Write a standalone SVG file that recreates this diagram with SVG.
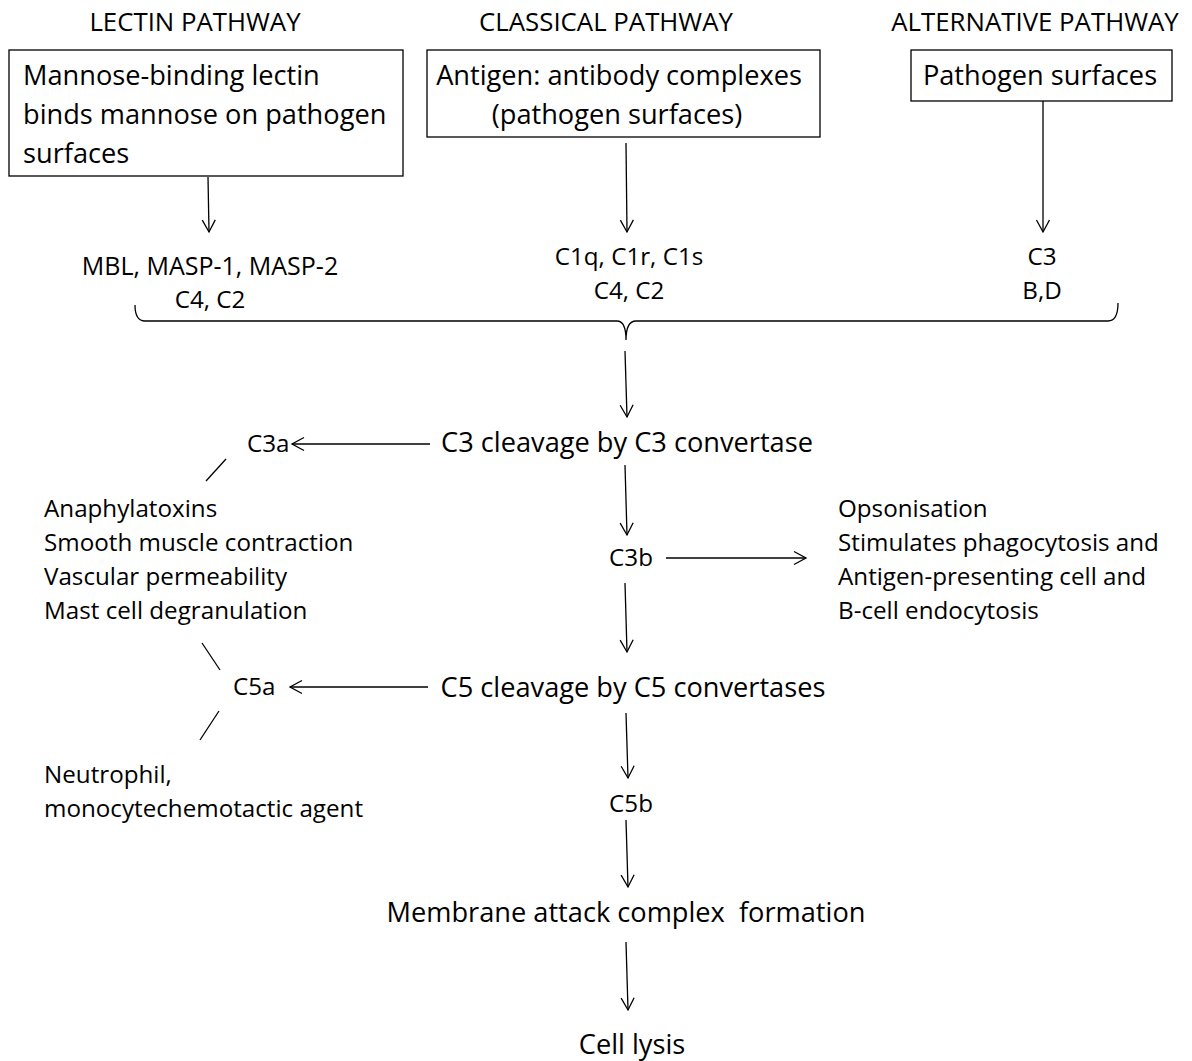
<svg xmlns="http://www.w3.org/2000/svg" width="1192" height="1061" viewBox="0 0 1192 1061">
<style>
text{font-family:"Open Sans","Liberation Sans",sans-serif;fill:#000}
.t{font-size:25.8px}
.m{font-size:27.2px}
.s{font-size:24.2px}
.c{text-anchor:middle}
.box{fill:#fff;stroke:#000;stroke-width:1.3}
.ln{fill:none;stroke:#000;stroke-width:1.3}
</style>
<defs>
<marker id="ah" markerUnits="userSpaceOnUse" markerWidth="16" markerHeight="16" viewBox="-14 -8 16 16" refX="0" refY="0" orient="auto">
<path d="M-12,-6.5 L0,0 L-12,6.5" fill="none" stroke="#000" stroke-width="1.3"/>
</marker>
</defs>
<rect width="1192" height="1061" fill="#fff"/>
<g id="titles">
<text class="t c" x="195" y="31">LECTIN PATHWAY</text>
<text class="t c" x="606" y="31">CLASSICAL PATHWAY</text>
<text class="t c" x="1035" y="31">ALTERNATIVE PATHWAY</text>
</g>
<g id="lectin-box">
<rect class="box" x="9" y="50" width="394" height="126"/>
<text class="m" x="23" y="85">Mannose-binding lectin</text>
<text class="m" x="23" y="124">binds mannose on pathogen</text>
<text class="m" x="23" y="163">surfaces</text>
</g>
<g id="classical-box">
<rect class="box" x="427" y="50" width="393" height="87"/>
<text class="m c" x="619" y="85">Antigen: antibody complexes</text>
<text class="m c" x="617" y="124">(pathogen surfaces)</text>
</g>
<g id="alternative-box">
<rect class="box" x="911" y="50" width="261" height="51"/>
<text class="m c" x="1040" y="85">Pathogen surfaces</text>
</g>
<g id="lectin-components">
<text class="s c" x="210" y="275" style="font-size:25px">MBL, MASP-1, MASP-2</text>
<text class="s c" x="210" y="308">C4, C2</text>
</g>
<g id="classical-components">
<text class="s c" x="629" y="265">C1q, C1r, C1s</text>
<text class="s c" x="629" y="299">C4, C2</text>
</g>
<g id="alternative-components">
<text class="s c" x="1042" y="265">C3</text>
<text class="s c" x="1042" y="299">B,D</text>
</g>
<g id="c3-cleavage"><text class="m c" x="627" y="452">C3 cleavage by C3 convertase</text></g>
<g id="c3a"><text class="s" x="247" y="452">C3a</text></g>
<g id="c3a-effects">
<text class="s" x="44" y="517">Anaphylatoxins</text>
<text class="s" x="44" y="551">Smooth muscle contraction</text>
<text class="s" x="44" y="585">Vascular permeability</text>
<text class="s" x="44" y="619">Mast cell degranulation</text>
</g>
<g id="c3b"><text class="s c" x="631" y="566">C3b</text></g>
<g id="c3b-effects">
<text class="s" x="838" y="517">Opsonisation</text>
<text class="s" x="838" y="551">Stimulates phagocytosis and</text>
<text class="s" x="838" y="585">Antigen-presenting cell and</text>
<text class="s" x="838" y="619">B-cell endocytosis</text>
</g>
<g id="c5-cleavage"><text class="m c" x="633" y="697">C5 cleavage by C5 convertases</text></g>
<g id="c5a"><text class="s" x="233" y="695">C5a</text></g>
<g id="c5a-effects">
<text class="s" x="44" y="783">Neutrophil,</text>
<text class="s" x="44" y="817">monocytechemotactic agent</text>
</g>
<g id="c5b"><text class="s c" x="631" y="812">C5b</text></g>
<g id="mac"><text class="m c" x="626" y="922" xml:space="preserve">Membrane attack complex  formation</text></g>
<g id="lysis"><text class="m c" x="632" y="1054">Cell lysis</text></g>
<g id="connectors">
<line class="ln" x1="208" y1="177" x2="209" y2="232" marker-end="url(#ah)"/>
<line class="ln" x1="626" y1="143" x2="627" y2="232" marker-end="url(#ah)"/>
<line class="ln" x1="1043" y1="101" x2="1043" y2="232" marker-end="url(#ah)"/>
<path class="ln" d="M135,305 Q135,321 145,321 L617,321 Q626,321 626,340 Q626,321 636,321 L1108,321 Q1118,321 1118,303"/>
<line class="ln" x1="625" y1="351" x2="627" y2="417" marker-end="url(#ah)"/>
<line class="ln" x1="430" y1="444" x2="292" y2="444" marker-end="url(#ah)"/>
<line class="ln" x1="226" y1="459" x2="206" y2="481"/>
<line class="ln" x1="625" y1="465" x2="627" y2="535" marker-end="url(#ah)"/>
<line class="ln" x1="666" y1="558" x2="806" y2="558" marker-end="url(#ah)"/>
<line class="ln" x1="625" y1="583" x2="627" y2="652" marker-end="url(#ah)"/>
<line class="ln" x1="428" y1="687" x2="290" y2="687" marker-end="url(#ah)"/>
<line class="ln" x1="202" y1="643" x2="220" y2="670"/>
<line class="ln" x1="219" y1="711" x2="200" y2="740"/>
<line class="ln" x1="626" y1="713" x2="628" y2="778" marker-end="url(#ah)"/>
<line class="ln" x1="626" y1="820" x2="628" y2="887" marker-end="url(#ah)"/>
<line class="ln" x1="626" y1="942" x2="628" y2="1010" marker-end="url(#ah)"/>
</g>
</svg>
